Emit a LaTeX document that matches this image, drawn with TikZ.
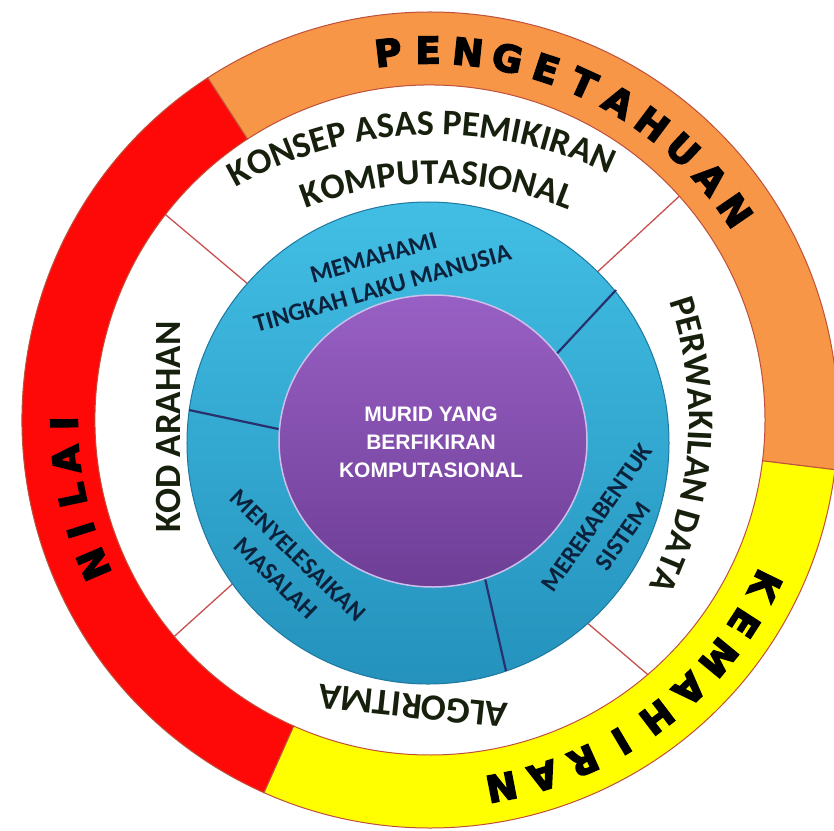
\documentclass[tikz,border=0pt]{standalone}
\usepackage{fontspec}
\setmainfont{Liberation Sans}
\newfontfamily\ringfont{Carlito Bold}
\newfontfamily\bigfont{DejaVu Sans Bold}[RawFeature={embolden=4}]
\usetikzlibrary{decorations.text}
\definecolor{nilaired}{RGB}{255,8,8}
\definecolor{tahuorange}{RGB}{247,150,70}
\definecolor{mahiryellow}{RGB}{255,255,0}
\definecolor{ringedge}{RGB}{190,80,60}
\definecolor{splitline}{RGB}{200,80,80}
\definecolor{bluetop}{RGB}{66,190,228}
\definecolor{bluebot}{RGB}{36,146,188}
\definecolor{bluerim}{RGB}{30,120,160}
\definecolor{purpletop}{RGB}{152,96,196}
\definecolor{purplebot}{RGB}{110,62,150}
\definecolor{purplerim}{RGB}{205,190,235}
\definecolor{navyline}{RGB}{40,48,110}
\definecolor{navytext}{RGB}{12,34,60}
\definecolor{ringtext}{RGB}{22,32,12}
\tikzset{
  sector/.style={draw=ringedge, line width=1pt},
  bigletter/.style={font=\bigfont\fontsize{37}{37}\selectfont, inner sep=0pt},
  ringword/.style={font=\ringfont\fontsize{37}{37}\selectfont, text=ringtext, inner sep=0pt},
  bluelabel/.style={font=\ringfont\fontsize{25}{32}\selectfont, text=navytext, align=center, inner sep=0pt},
  ringlabel/.style={decorate, decoration={text along path, text align=center, text color=ringtext,
    text={|\ringfont\fontsize{36}{36}\selectfont|#1}}}
}
\begin{document}
\begin{tikzpicture}[x=1pt, y=1pt]
\useasboundingbox (-430,-410) rectangle (404,420);
\fill[white] (-430,-410) rectangle (404,420);

\draw[splitline, line width=1.3pt] (-270,210) -- (-175,130);
\draw[splitline, line width=1.3pt] (256,230) -- (163,144);
\draw[splitline, line width=1.3pt] (-263,-223) -- (-191,-158);
\draw[splitline, line width=1.3pt] (230,-265) -- (155,-201);

\path[sector, fill=nilaired] (123:408) arc[start angle=123, end angle=246, radius=408pt]
  -- (246:335) arc[start angle=246, end angle=123, radius=335pt] -- cycle;
\path[sector, fill=tahuorange] (-7:408) arc[start angle=-7, end angle=123, radius=408pt]
  -- (123:335) arc[start angle=123, end angle=-7, radius=335pt] -- cycle;
\path[sector, fill=mahiryellow] (246:408) arc[start angle=246, end angle=353, radius=408pt]
  -- (353:335) arc[start angle=353, end angle=246, radius=335pt] -- cycle;

\path[draw=bluerim, line width=1pt, top color=bluetop, bottom color=bluebot] (-2,-23) circle[radius=241pt];
\draw[navyline, line width=2.2pt] (120,59) -- (186,130);
\draw[navyline, line width=2.2pt] (-147,-10) -- (-241,10);
\draw[navyline, line width=2.2pt] (54,-154) -- (76,-251);
\path[draw=purplerim, line width=1.5pt, top color=purpletop, bottom color=purplebot] (3,-21) ellipse[x radius=154pt, y radius=146pt];

\node[font=\bfseries\fontsize{21}{28}\selectfont, text=white, align=center] (murid) at (1,-22) {MURID YANG\\BERFIKIRAN\\KOMPUTASIONAL};
\node[bluelabel, rotate=16] (fahami) at (-52,147) {MEMAHAMI\\TINGKAH LAKU MANUSIA};
\node[bluelabel, rotate=55] (bentuk) at (180,-107) {MEREKABENTUK\\SISTEM};
\node[bluelabel, rotate=-44] (selesai) at (-143,-147) {MENYELESAIKAN\\MASALAH};

\path[shift={(5,-120)}, ringlabel={KONSEP ASAS PEMIKIRAN}] (142:405) arc[start angle=142, end angle=42, radius=405pt];
\path[shift={(5,-120)}, ringlabel={KOMPUTASIONAL}] (140:356) arc[start angle=140, end angle=39.2, radius=356pt];
\path[shift={(-104,0)}, ringlabel={PERWAKILAN DATA}] (40:363) arc[start angle=40, end angle=-48.2, radius=363pt];
\node[ringword, rotate=90] (kod) at (-262,-7) {KOD ARAHAN};
\node[ringword, rotate=174] (algo) at (-17,-286) {ALGORITMA};

\foreach \ch [count=\i from 0] in {P,E,N,G,E,T,A,H,U,A,N} {
  \pgfmathsetmacro\ang{96.5-6.2*\i}
  \node[bigletter, rotate=\ang-90] (tahu\i) at (\ang:370) {\ch};
}
\foreach \ch [count=\i from 0] in {K,E,M,A,H,I,R,A,N} {
  \pgfmathsetmacro\ang{-26.3-6.58*\i}
  \node[bigletter, rotate=\ang-90] (mahir\i) at (\ang:374) {\ch};
}
\foreach \ch [count=\i from 0] in {N,I,L,A,I} {
  \pgfmathsetmacro\ang{203.2-5.67*\i}
  \node[bigletter, rotate=\ang-90] (nilai\i) at (\ang:366) {\ch};
}
\end{tikzpicture}
\end{document}
